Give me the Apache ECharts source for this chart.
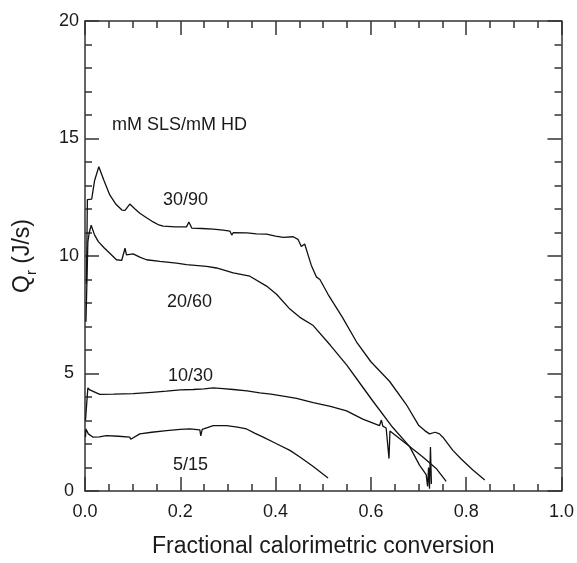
<!DOCTYPE html>
<html><head><meta charset="utf-8">
<script src="https://cdn.jsdelivr.net/npm/echarts@6/dist/echarts.min.js"></script>
<style>html,body{margin:0;padding:0;background:#fff}#c{width:577px;height:563px}</style>
</head><body><div id="c"></div>
<script>
const xTicks = [0, 0.2, 0.4, 0.6, 0.8, 1.0];
const yTicks = [0, 5, 10, 15, 20];
const seriesNames = ['30/90', '20/60', '10/30', '5/15'];
const s30_90 = [[0.003,8.8],[0.005,12.4],[0.014,12.42],[0.020,13.2],[0.029,13.8],[0.040,13.2],[0.052,12.6],[0.065,12.2],[0.078,11.95],[0.084,11.94],[0.094,12.21],[0.105,12.0],[0.115,11.82],[0.13,11.62],[0.143,11.45],[0.155,11.32],[0.164,11.27],[0.19,11.24],[0.213,11.24],[0.218,11.45],[0.224,11.19],[0.245,11.17],[0.269,11.14],[0.29,11.1],[0.304,11.06],[0.308,10.89],[0.311,10.99],[0.34,10.98],[0.36,10.94],[0.381,10.93],[0.40,10.85],[0.416,10.79],[0.437,10.82],[0.447,10.71],[0.454,10.40],[0.461,10.51],[0.475,9.6],[0.486,9.1],[0.493,9.0],[0.510,8.37],[0.54,7.4],[0.570,6.34],[0.60,5.5],[0.639,4.67],[0.674,3.69],[0.70,2.8],[0.713,2.57],[0.723,2.43],[0.735,2.5],[0.744,2.43],[0.751,2.29],[0.772,1.73],[0.790,1.35],[0.814,0.89],[0.839,0.47]];
const s20_60 = [[0.002,7.2],[0.006,10.6],[0.009,11.0],[0.013,11.31],[0.020,10.9],[0.028,10.61],[0.040,10.35],[0.052,10.12],[0.066,9.84],[0.077,9.81],[0.084,10.33],[0.087,10.05],[0.101,10.09],[0.115,9.95],[0.129,9.84],[0.157,9.77],[0.192,9.70],[0.213,9.63],[0.255,9.56],[0.276,9.49],[0.311,9.28],[0.346,9.14],[0.381,8.72],[0.402,8.37],[0.430,7.74],[0.451,7.39],[0.479,7.04],[0.515,6.2],[0.549,5.37],[0.580,4.5],[0.604,3.83],[0.646,2.7],[0.681,1.9],[0.702,1.1],[0.716,0.7],[0.719,0.2],[0.721,1.0],[0.723,0.1],[0.725,1.87],[0.727,0.3]];
const s10_30 = [[0.001,3.0],[0.006,4.39],[0.010,4.3],[0.014,4.22],[0.031,4.11],[0.06,4.12],[0.101,4.14],[0.14,4.2],[0.171,4.25],[0.2,4.3],[0.227,4.32],[0.25,4.35],[0.269,4.39],[0.29,4.36],[0.311,4.32],[0.34,4.26],[0.367,4.18],[0.39,4.12],[0.416,4.04],[0.444,3.94],[0.479,3.76],[0.515,3.6],[0.549,3.41],[0.583,3.06],[0.618,2.78],[0.622,3.02],[0.625,2.76],[0.632,2.68],[0.636,2.6],[0.638,1.38],[0.640,2.55],[0.643,2.50],[0.674,2.01],[0.709,1.45],[0.737,0.96],[0.758,0.41]];
const s5_15 = [[0.001,2.3],[0.002,2.64],[0.007,2.43],[0.017,2.29],[0.030,2.30],[0.045,2.36],[0.07,2.33],[0.094,2.29],[0.096,2.2],[0.115,2.43],[0.14,2.5],[0.171,2.57],[0.20,2.62],[0.220,2.64],[0.241,2.60],[0.243,2.35],[0.246,2.62],[0.269,2.78],[0.297,2.78],[0.32,2.72],[0.339,2.64],[0.357,2.45],[0.374,2.29],[0.402,2.01],[0.430,1.73],[0.451,1.45],[0.479,1.04],[0.510,0.55]];
const seriesData = [s30_90, s20_60, s10_30, s5_15];

const FONT = "'Liberation Sans', Arial, sans-serif";
const AX = '#333';
const TXT = '#1a1a1a';
const chart = echarts.init(document.getElementById('c'), null, {renderer: 'canvas'});
function xAx(pos, show) {
  return {type:'value', position: pos, min: xTicks[0], max: xTicks[xTicks.length-1], interval: 0.2,
    axisLine:{show:true, onZero:false, lineStyle:{color:AX, width:1.5}},
    axisTick:{show:true, inside:true, length:14, lineStyle:{color:AX, width:1.5}},
    minorTick:{show:true, splitNumber:4, length:7, lineStyle:{color:AX, width:1.5}},
    splitLine:{show:false}, minorSplitLine:{show:false},
    axisLabel:{show:show, color:TXT, fontSize:18, fontFamily:FONT, margin:12, formatter:v=>v.toFixed(1)},
    name: show ? 'Fractional calorimetric conversion' : '', nameLocation:'middle', nameGap:44,
    nameTextStyle:{fontSize:23, color:TXT, fontFamily:FONT}};
}
function yAx(pos, show) {
  return {type:'value', position: pos, min: yTicks[0], max: yTicks[yTicks.length-1], interval: 5,
    axisLine:{show:true, onZero:false, lineStyle:{color:AX, width:1.5}},
    axisTick:{show:true, inside:true, length:14, lineStyle:{color:AX, width:1.5}},
    minorTick:{show:true, splitNumber:5, length:7, lineStyle:{color:AX, width:1.5}},
    splitLine:{show:false}, minorSplitLine:{show:false},
    axisLabel:{show:show, color:TXT, fontSize:18, fontFamily:FONT, margin:16, align:'center'},
    name: show ? '{m|Q}{s|r}{m| (J/s)}' : '', nameLocation:'middle', nameGap:44,
    nameTextStyle:{fontFamily:FONT, color:TXT, rich:{
      m:{fontSize:23, fontFamily:FONT, color:TXT, lineHeight:30, verticalAlign:'top'},
      s:{fontSize:15, fontFamily:FONT, color:TXT, lineHeight:30, verticalAlign:'top', padding:[13,0,0,0]}}}};
}
function lbl(text, x, y) {
  return {type:'text', x:x, y:y, style:{text:text, fontSize:18, fontFamily:FONT, fill:TXT, verticalAlign:'middle', align:'left'}};
}
chart.setOption({
  animation:false,
  backgroundColor:'#fff',
  grid:{left:85, right:14, top:21, bottom:65, containLabel:false},
  xAxis:[xAx('bottom', true), xAx('top', false)],
  yAxis:[yAx('left', true), yAx('right', false)],
  series: seriesData.map((d,i)=>({type:'line', name:seriesNames[i], data:d, showSymbol:false, symbol:'none',
    lineStyle:{color:'#111', width:1.3}, xAxisIndex:0, yAxisIndex:0})),
  graphic:[
    lbl('mM SLS/mM HD', 112, 125),
    lbl(seriesNames[0], 163, 200),
    lbl(seriesNames[1], 167, 302),
    lbl(seriesNames[2], 168, 376),
    lbl(seriesNames[3], 173, 465)
  ]
});
</script></body></html>
